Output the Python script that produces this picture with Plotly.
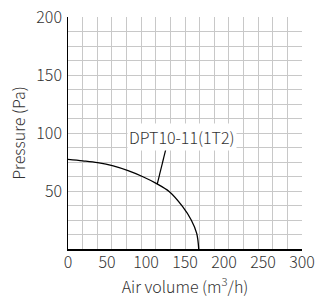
import plotly.graph_objects as go

# Data
air_volume = [0, 19, 38, 58, 77, 96, 113, 130, 147, 158, 165, 167.6]
pressure = [77.3, 76.0, 74.4, 71.6, 67.5, 62.3, 56.6, 49.4, 36.5, 25.0, 13.5, 0]
series_name = "DPT10-11(1T2)"
x_ticks = [0, 50, 100, 150, 200, 250, 300]
y_ticks = [50, 100, 150, 200]

FONT = "Noto Sans CJK SC"
TXT = "#333333"
GRID = "#c8c8c8"

fig = go.Figure()
fig.add_trace(go.Scatter(x=air_volume, y=pressure, mode="lines",
                         line=dict(color="black", width=1.3, shape="spline"),
                         showlegend=False, hoverinfo="skip"))
# invisible trace to activate the label axes
fig.add_trace(go.Scatter(x=[0], y=[0], xaxis="x2", yaxis="y2", mode="markers",
                         marker=dict(opacity=0), showlegend=False, hoverinfo="skip"))

tf = dict(family=FONT, size=16, color=TXT, weight=300)
fig.update_layout(
    width=323, height=298,
    margin=dict(l=68, r=21, t=17, b=49),
    paper_bgcolor="white", plot_bgcolor="white",
    font=dict(family=FONT, size=16, color=TXT),
    xaxis=dict(range=[0, 300], dtick=18.75, tick0=0, showgrid=True,
               gridcolor=GRID, gridwidth=1, showticklabels=False,
               ticks="", zeroline=False, showline=True, linecolor="black",
               linewidth=1.5, automargin=False),
    yaxis=dict(range=[0, 200], dtick=12.5, tick0=0, showgrid=True,
               gridcolor=GRID, gridwidth=1, showticklabels=False,
               ticks="", zeroline=False, showline=True, linecolor="black",
               linewidth=1.5, automargin=False),
    xaxis2=dict(range=[0, 300], overlaying="x", anchor="y2", side="bottom",
                tickvals=x_ticks, showgrid=False, zeroline=False,
                ticks="", showline=False, automargin=False, tickfont=tf,
                ticklabelstandoff=2, ticklabeloverflow="allow",
                title=dict(text="Air volume (m<sup>3</sup>/h)", standoff=4,
                           font=tf)),
    yaxis2=dict(range=[0, 200], overlaying="y", anchor="x2", side="left",
                tickvals=y_ticks, showgrid=False, zeroline=False,
                ticks="", showline=False, automargin=False, tickfont=tf,
                ticklabelstandoff=5, ticklabeloverflow="allow",
                title=dict(text="Pressure (Pa)", standoff=6, font=tf)),
)

fig.add_shape(type="line", x0=126.4, y0=88.8, x1=114.4, y1=55.9,
              line=dict(color="black", width=1.2), xref="x", yref="y")
fig.add_annotation(x=146.2, y=96.3, xref="x", yref="y", text=series_name,
                   showarrow=False, bgcolor="white", borderpad=1,
                   font=tf)

fig.write_html("out.html",
               config={"displayModeBar": False, "staticPlot": True},
               post_script="document.body.style.margin='0';document.body.style.overflow='hidden';")
